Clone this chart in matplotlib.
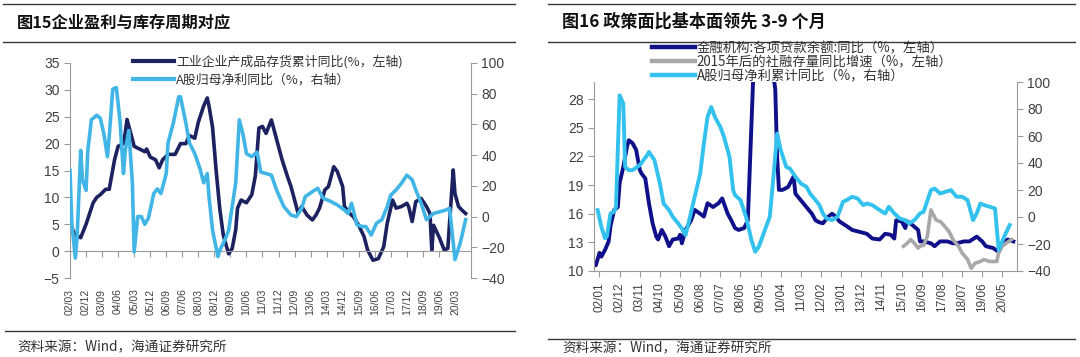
import matplotlib
matplotlib.use("Agg")
import matplotlib.pyplot as plt
from matplotlib.lines import Line2D

plt.rcParams['font.family'] = ['Liberation Sans', 'Noto Sans CJK SC', 'DejaVu Sans']
CJK = ['Noto Sans CJK SC', 'DejaVu Sans']

# ---- 图15 data ----
inv_dates = ['2002-03', '2002-06', '2002-09', '2002-12', '2003-02', '2003-04', '2003-06', '2003-08',
             '2003-11', '2004-01', '2004-04', '2004-06', '2004-09', '2004-10', '2004-11', '2005-01',
             '2005-03', '2005-06', '2005-09', '2005-10', '2005-12', '2006-03', '2006-05', '2006-07',
             '2006-10', '2007-02', '2007-05', '2007-08', '2007-10', '2008-01', '2008-03', '2008-06',
             '2008-08', '2008-09', '2008-11', '2009-01', '2009-03', '2009-05', '2009-08', '2009-10',
             '2009-12', '2010-01', '2010-03', '2010-06', '2010-09', '2010-11', '2011-01', '2011-03',
             '2011-05', '2011-08', '2011-11', '2012-02', '2012-05', '2012-07', '2012-10', '2012-11',
             '2013-01', '2013-04', '2013-07', '2013-09', '2013-11', '2014-02', '2014-04', '2014-07',
             '2014-09', '2014-12', '2015-01', '2015-04', '2015-06', '2015-09', '2015-12', '2016-02',
             '2016-05', '2016-08', '2016-11', '2017-01', '2017-04', '2017-06', '2017-09', '2017-12',
             '2018-01', '2018-03', '2018-05', '2018-08', '2018-11', '2019-01', '2019-02', '2019-03',
             '2019-06', '2019-09', '2019-11', '2020-02', '2020-03', '2020-05', '2020-07', '2020-09']
inv_vals = [5.0, 3.0, 2.5, 5.0, 7.0, 9.0, 10.0, 10.5, 11.5, 11.5, 17.0, 19.5, 20.0, 22.0, 24.5, 22.0,
            19.5, 19.0, 18.5, 19.0, 17.5, 17.0, 15.5, 17.0, 18.0, 18.0, 20.0, 20.0, 21.5, 21.0, 24.0,
            27.0, 28.5, 27.0, 23.0, 15.0, 8.0, 3.0, -0.5, 0.5, 4.0, 8.0, 9.5, 9.0, 10.5, 14.0, 22.9,
            23.2, 21.9, 24.4, 20.7, 17.0, 13.9, 12.0, 8.3, 7.0, 8.3, 6.7, 5.8, 6.7, 8.0, 11.4, 12.0,
            15.7, 14.8, 12.0, 8.3, 7.0, 6.4, 4.8, 2.7, 0.2, -1.7, -1.4, 0.8, 5.2, 9.5, 8.0, 8.3, 8.9,
            8.3, 5.5, 9.2, 9.8, 8.3, 7.0, 0.2, 4.8, 2.7, 0.2, 0.5, 15.1, 10.7, 8.3, 7.6, 7.0]

prof_dates = ['2002-03', '2002-04', '2002-06', '2002-07', '2002-09', '2002-10', '2002-12', '2003-01',
              '2003-03', '2003-06', '2003-08', '2003-10', '2003-12', '2004-01', '2004-03', '2004-05',
              '2004-07', '2004-09', '2004-10', '2004-12', '2005-02', '2005-03', '2005-05', '2005-07',
              '2005-09', '2005-11', '2006-02', '2006-04', '2006-06', '2006-09', '2006-10', '2007-01',
              '2007-04', '2007-05', '2007-08', '2007-10', '2008-01', '2008-04', '2008-06', '2008-08',
              '2008-09', '2008-11', '2009-02', '2009-03', '2009-06', '2009-08', '2009-12', '2010-02',
              '2010-04', '2010-06', '2010-09', '2010-12', '2011-02', '2011-08', '2011-11', '2012-03',
              '2012-07', '2012-10', '2013-01', '2013-03', '2013-08', '2013-10', '2014-01', '2014-05',
              '2014-09', '2015-01', '2015-03', '2015-05', '2015-08', '2015-11', '2016-01', '2016-04',
              '2016-07', '2016-10', '2017-01', '2017-03', '2017-06', '2017-09', '2017-12', '2018-03',
              '2018-05', '2018-08', '2018-11', '2019-01', '2019-03', '2019-06', '2019-10', '2019-12',
              '2020-03', '2020-06', '2020-09']
prof_vals = [30, -4, -27, -13, 43, 24, 17, 43, 63, 66, 64, 54, 39, 52, 83, 84, 63, 28, 43, 56, 22, -23,
             0, 0, -5, -1, 15, 18, 15, 28, 48, 61, 78, 78, 61, 48, 41, 31, 22, 28, 13, -9, -26, -22,
             -15, -9, 22, 63, 54, 41, 39, 42, 29, 27, 17, 6.5, 1, 0, 5.4, 13, 17, 18.4, 12, 10, 7.6,
             4.3, 2, 8.7, -5.4, -6.5, -6.5, -12, -4.3, -2, 6.5, 14, 17.4, 21.7, 27, 24, 17.4, 8.7, -2,
             0, 2, 3, 4.3, 5.4, -28, -17, -2]

left_ticks = ['02/03', '02/12', '03/09', '04/06', '05/03', '05/12', '06/09', '07/06', '08/03', '08/12',
              '09/09', '10/06', '11/03', '11/12', '12/09', '13/06', '14/03', '14/12', '15/09', '16/06',
              '17/03', '17/12', '18/09', '19/06', '20/03']

# ---- 图16 data ----
loan_dates = ['2001-10', '2001-11', '2002-01', '2002-02', '2002-04', '2002-06', '2002-07', '2002-09',
              '2002-11', '2002-12', '2003-02', '2003-04', '2003-05', '2003-07', '2003-09', '2003-11',
              '2003-12', '2004-02', '2004-04', '2004-06', '2004-08', '2004-09', '2004-11', '2005-01',
              '2005-03', '2005-05', '2005-08', '2005-09', '2005-10', '2005-12', '2006-03', '2006-05',
              '2006-08', '2006-10', '2006-12', '2007-03', '2007-06', '2007-08', '2007-11', '2008-01',
              '2008-03', '2008-05', '2008-08', '2008-10', '2009-01', '2009-06', '2009-11', '2009-12',
              '2010-01', '2010-02', '2010-03', '2010-05', '2010-08', '2010-11', '2010-12', '2011-03',
              '2011-06', '2011-09', '2011-11', '2012-01', '2012-03', '2012-06', '2012-08', '2012-10',
              '2012-12', '2013-04', '2013-07', '2013-11', '2014-03', '2014-06', '2014-10', '2015-01',
              '2015-04', '2015-06', '2015-07', '2015-10', '2015-12', '2016-01', '2016-04', '2016-07',
              '2016-08', '2016-10', '2017-02', '2017-04', '2017-07', '2017-11', '2018-02', '2018-04',
              '2018-08', '2018-11', '2019-03', '2019-06', '2019-08', '2019-12', '2020-03', '2020-05',
              '2020-08', '2020-11']
loan_vals = [10.8, 10.6, 11.9, 11.5, 12.2, 13.1, 14.7, 16.4, 16.7, 19.2, 20.9, 23.0, 23.7, 23.4, 22.7,
             20.6, 20.2, 19.7, 17.1, 15.0, 13.6, 13.3, 14.3, 13.6, 12.6, 13.3, 13.4, 13.8, 12.9, 14.3,
             15.3, 16.4, 16.0, 15.7, 17.1, 16.7, 17.1, 17.6, 16.0, 15.3, 14.5, 14.3, 14.5, 15.3, 30.5,
             34.0, 34.0, 30.5, 29.0, 22.0, 18.5, 18.5, 18.8, 19.9, 18.1, 17.4, 16.7, 16.0, 15.3, 15.1,
             15.0, 15.7, 16.0, 15.7, 15.2, 14.7, 14.3, 14.1, 13.9, 13.4, 13.3, 13.9, 13.8, 13.4, 15.3,
             15.2, 14.5, 15.2, 14.8, 14.3, 13.1, 13.1, 12.9, 12.6, 13.1, 13.1, 12.9, 12.9, 13.1, 13.1,
             13.6, 13.1, 12.6, 12.4, 12.0, 12.9, 13.3, 13.1]

tsf_dates = ['2015-11', '2016-01', '2016-03', '2016-05', '2016-07', '2016-08', '2016-10', '2016-12',
             '2017-02', '2017-03', '2017-05', '2017-07', '2017-09', '2017-12', '2018-02', '2018-05',
             '2018-07', '2018-10', '2018-12', '2019-02', '2019-05', '2019-07', '2019-10', '2020-02',
             '2020-03', '2020-05', '2020-07', '2020-10']
tsf_vals = [12.6, 12.9, 13.3, 12.9, 12.4, 12.6, 12.7, 13.6, 16.4, 16.0, 15.3, 15.2, 14.8, 14.1, 13.3,
            12.6, 11.9, 11.2, 10.3, 10.8, 11.0, 11.2, 11.0, 11.0, 12.0, 12.6, 12.9, 13.3]

cum_dates = ['2001-12', '2002-02', '2002-04', '2002-05', '2002-07', '2002-09', '2002-10', '2002-11',
             '2002-12', '2003-02', '2003-03', '2003-05', '2003-07', '2003-11', '2004-03', '2004-04',
             '2004-07', '2004-10', '2004-12', '2005-03', '2005-05', '2005-08', '2005-10', '2005-12',
             '2006-02', '2006-05', '2006-08', '2006-10', '2006-12', '2007-02', '2007-04', '2007-07',
             '2007-09', '2007-12', '2008-02', '2008-03', '2008-06', '2008-09', '2008-12', '2009-02',
             '2009-04', '2009-07', '2009-10', '2009-12', '2010-02', '2010-04', '2010-07', '2010-09',
             '2010-12', '2011-03', '2011-06', '2011-08', '2011-11', '2012-01', '2012-03', '2012-05',
             '2012-08', '2012-11', '2013-02', '2013-04', '2013-07', '2013-10', '2014-01', '2014-03',
             '2014-06', '2014-10', '2015-01', '2015-03', '2015-06', '2015-09', '2015-12', '2016-02',
             '2016-05', '2016-08', '2016-10', '2017-02', '2017-04', '2017-07', '2017-10', '2018-01',
             '2018-04', '2018-07', '2018-10', '2019-01', '2019-03', '2019-05', '2019-07', '2019-10',
             '2020-01', '2020-03', '2020-06', '2020-09']
cum_vals = [5.1, -7.2, -15.8, -14.6, 2.6, 3.9, 7.6, 49.5, 90.1, 84.0, 37.1, 34.7, 34.7, 38.4, 45.8,
            48.2, 42.1, 24.8, 10.0, 5.1, 0.2, -4.8, -8.5, -13.4, -2.3, 15.0, 32.2, 54.4, 74.1, 81.5,
            74.1, 66.7, 59.3, 44.5, 19.9, 16.2, 12.5, 0.2, -17.1, -25.7, -22.0, -10.9, 0.2, 29.8, 61.8,
            49.5, 37.1, 35.9, 29.8, 24.8, 22.4, 17.4, 12.5, 9.0, 2.6, -1.1, -2.3, 0.2, 11.3, 12.5,
            15.0, 13.7, 8.8, 10.0, 8.8, 5.1, 2.6, 7.6, 2.6, -1.1, -2.3, -4.8, -2.3, 2.6, 3.9, 19.9,
            21.1, 17.4, 18.7, 19.9, 15.0, 15.0, 12.5, -2.3, 2.6, 10.0, 8.8, 7.6, 6.3, -24.4, -14.6, -6.0]

right_ticks = ['02/01', '02/12', '03/11', '04/10', '05/09', '06/08', '07/07', '08/06', '09/05', '10/04',
               '11/03', '12/02', '13/01', '13/12', '14/11', '15/10', '16/09', '17/08', '18/07', '19/06',
               '20/05']


def mi(s):
    y, m = s.split('-')
    return (int(y) - 2002) * 12 + int(m) - 1


def tick_pos(lbl):
    yy, mm = lbl.split('/')
    return mi('20%s-%s' % (yy, mm))


DARK = '#1c2160'
LIGHT = '#41b6e6'
NAVY = '#10108a'
GRAY = '#a8a8a8'
CYAN = '#33c1ee'
SPINE = '#9a9a9a'
TXT = '#404040'
W, H = 1080, 357

fig = plt.figure(figsize=(W / 100, H / 100), dpi=100)


def fx(px):
    return px / W


def fy(py):
    return 1 - py / H


def hline(x0, x1, y):
    fig.add_artist(Line2D([fx(x0), fx(x1)], [fy(y), fy(y)], transform=fig.transFigure,
                          color='#3a3a3a', lw=1.0))


def style(ax):
    for s in ax.spines.values():
        s.set_color(SPINE)
    ax.tick_params(colors=SPINE, labelcolor=TXT, labelsize=10, length=4, width=0.8)


# ================= 图15 =================
ax1 = fig.add_axes([fx(70), fy(278), fx(401), 215 / H])
ax1b = ax1.twinx()
ax1.plot([mi(d) for d in inv_dates], inv_vals, color=DARK, lw=2.6, solid_joinstyle='round')
ax1b.plot([mi(d) for d in prof_dates], prof_vals, color=LIGHT, lw=2.6, solid_joinstyle='round')
ax1.set_xlim(mi('2002-03'), mi('2020-12'))
ax1.set_ylim(-5, 35)
ax1.set_yticks(range(-5, 36, 5))
ax1b.set_ylim(-40, 100)
ax1b.set_yticks(range(-40, 101, 20))
for a in (ax1, ax1b):
    style(a)
    a.spines['top'].set_visible(False)
    a.spines['bottom'].set_visible(False)
ax1.spines['bottom'].set_visible(True)
ax1.spines['bottom'].set_position(('data', 0))
ax1b.spines['left'].set_visible(False)
ax1.spines['right'].set_visible(False)
ax1.set_xticks([tick_pos(t) for t in left_ticks])
ax1.set_xticklabels(left_ticks, rotation=90, fontsize=7.5, va='top')
ax1.tick_params(axis='x', length=4, pad=23)

fig.legend([Line2D([], [], color=DARK, lw=3), Line2D([], [], color=LIGHT, lw=3)],
           ['工业企业产成品存货累计同比(%，左轴)', 'A股归母净利同比（%，右轴）'],
           loc='upper left', bbox_to_anchor=(fx(133), fy(55)), frameon=False,
           prop={'family': CJK, 'size': 9.3}, handlelength=3.2, handletextpad=0.15,
           labelspacing=0.4, borderpad=0, borderaxespad=0, labelcolor='#333333')

hline(3, 515, 4)
hline(3, 515, 42)
hline(5, 515, 331)
fig.text(fx(17), fy(22), '图15企业盈利与库存周期对应', family=CJK, fontsize=11.7,
         fontweight='bold', va='center', color='#111111')
fig.text(fx(17), fy(347), '资料来源：Wind，海通证券研究所', family=CJK, fontsize=9.8,
         va='center', color='#333333')

# ================= 图16 =================
ax2 = fig.add_axes([fx(594), fy(271), fx(423), 189 / H])
ax2b = ax2.twinx()
ax2.plot([mi(d) for d in loan_dates], loan_vals, color=NAVY, lw=2.8, solid_joinstyle='round')
ax2.plot([mi(d) for d in tsf_dates], tsf_vals, color=GRAY, lw=2.6, solid_joinstyle='round')
ax2b.plot([mi(d) for d in cum_dates], cum_vals, color=CYAN, lw=2.8, solid_joinstyle='round')
ax2.set_xlim(mi('2001-10'), mi('2021-01'))
ax2.set_ylim(10, 29.8)
ax2.set_yticks(range(10, 29, 3))
ax2b.set_ylim(-40, 100)
ax2b.set_yticks(range(-40, 101, 20))
for a in (ax2, ax2b):
    style(a)
    a.spines['top'].set_visible(False)
ax2.spines['right'].set_visible(False)
ax2b.spines['left'].set_visible(False)
ax2b.spines['bottom'].set_visible(False)
ax2.set_xticks([tick_pos(t) for t in right_ticks])
ax2.set_xticklabels(right_ticks, rotation=90, fontsize=8.5, va='top')
ax2.tick_params(axis='x', length=4, pad=4)

fig.legend([Line2D([], [], color=NAVY, lw=3.2), Line2D([], [], color=GRAY, lw=3.2),
            Line2D([], [], color=CYAN, lw=3.2)],
           ['金融机构:各项贷款余额:同比（%，左轴）', '2015年后的社融存量同比增速（%，左轴）',
            'A股归母净利累计同比（%，右轴）'],
           loc='upper left', bbox_to_anchor=(fx(652), fy(41)), frameon=False,
           prop={'family': CJK, 'size': 9.6}, handlelength=3.2, handletextpad=0.15,
           labelspacing=0.0, borderpad=0, borderaxespad=0, labelcolor='#333333')

hline(548, 1075, 4)
hline(548, 1075, 42)
hline(548, 1075, 339)
fig.text(fx(562), fy(22), '图16 政策面比基本面领先 3-9 个月', family=CJK, fontsize=12.3,
         fontweight='bold', va='center', color='#111111')
fig.text(fx(562), fy(348), '资料来源：Wind，海通证券研究所', family=CJK, fontsize=9.8,
         va='center', color='#333333')

fig.savefig('out.png', dpi=100)
